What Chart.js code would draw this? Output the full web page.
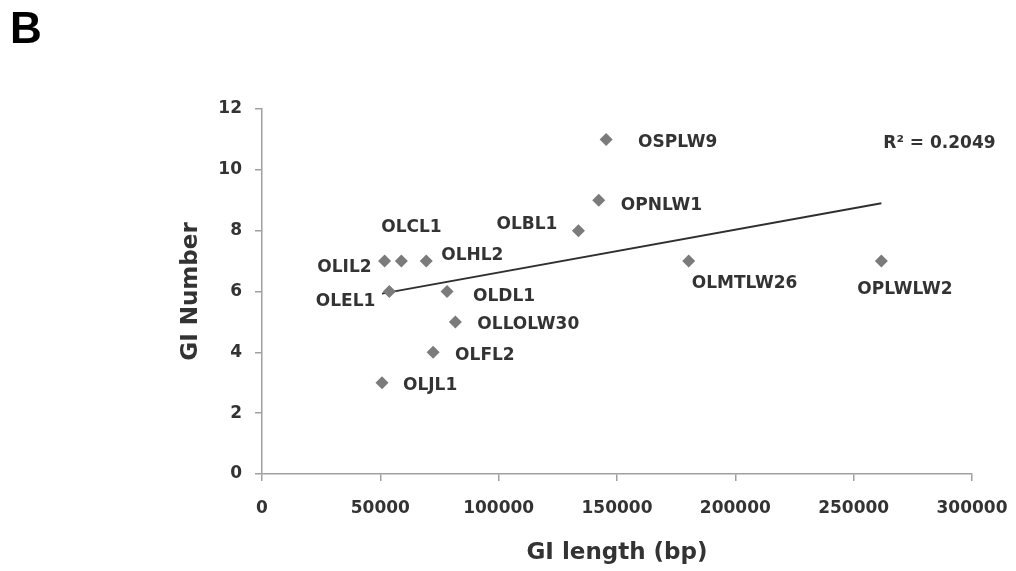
<!DOCTYPE html>
<html>
<head>
<meta charset="utf-8">
<script src="https://cdn.jsdelivr.net/npm/chart.js@4.4.1/dist/chart.umd.min.js"></script>
<style>
  body { margin: 0; background: #fff; }
  #wrap { position: relative; width: 1016px; height: 571px; }
  #panel { position: absolute; left: 10px; top: 6px; font: bold 44px "Liberation Sans", Arial, sans-serif; line-height: 1; color: #000; }
</style>
</head>
<body>
<div id="wrap">
  <canvas id="gi-chart" width="1016" height="571"></canvas>
  <div id="panel">B</div>
</div>
<script>
/* DATA */
const giNames  = ["OLIL2", "OLCL1", "OLHL2", "OLEL1", "OLDL1", "OLLOLW30", "OLFL2", "OLJL1", "OLBL1", "OPNLW1", "OSPLW9", "OLMTLW26", "OPLWLW2"]
const giLength = [51800, 58900, 69400, 53800, 78200, 81700, 72300, 50700, 133700, 142300, 145400, 180300, 261700]
const giNumber = [7, 7, 7, 6, 6, 5, 4, 3, 8, 9, 11, 7, 7]

/* linear trendline (Excel) endpoints */
const trendX = [50700, 261700]
const trendY = [5.93, 8.90]
const rSquared = "R² = 0.2049"

const xTitle = "GI length (bp)"
const yTitle = "GI Number"

/* label placement next to each point: [align, dx, dy] */
const labelPlace = [
    ["right", -13, 6],
    ["center", 10, -34],
    ["left", 15, -6],
    ["right", -14, 10],
    ["left", 26, 5],
    ["left", 22, 3],
    ["left", 22, 3],
    ["left", 21, 3],
    ["right", -21, -6],
    ["left", 22, 5],
    ["left", 32, 3],
    ["left", 3, 22],
    ["left", -24, 28]
]

const labelFont = 'bold 17px "DejaVu Sans", sans-serif'
const textColor = "#333333"

let pointsData = []
for (let i = 0; i < giNames.length; i++) {
    pointsData.push({ x: giLength[i], y: giNumber[i] })
}
let trendData = []
for (let i = 0; i < trendX.length; i++) {
    trendData.push({ x: trendX[i], y: trendY[i] })
}

const pointLabels = {
    id: "pointLabels",
    afterDatasetsDraw(chart) {
        const ctx = chart.ctx
        const meta = chart.getDatasetMeta(0)
        ctx.save()
        ctx.font = labelFont
        ctx.fillStyle = textColor
        ctx.textBaseline = "middle"
        for (let i = 0; i < meta.data.length; i++) {
            const p = meta.data[i]
            ctx.textAlign = labelPlace[i][0]
            ctx.fillText(giNames[i], p.x + labelPlace[i][1], p.y + labelPlace[i][2])
        }
        // R squared, next to the end of the trendline
        const xs = chart.scales.x, ys = chart.scales.y
        ctx.textAlign = "left"
        ctx.fillText(rSquared, xs.getPixelForValue(trendX[1]) + 2, ys.getPixelForValue(11) + 4)
        ctx.restore()
    }
}

const tickFont = { family: "DejaVu Sans", size: 17, weight: "bold" }
const titleFont = { family: "DejaVu Sans", size: 23, weight: "bold" }

new Chart(document.getElementById("gi-chart").getContext("2d"), {
    type: "scatter",
    data: {
        datasets: [
            {
                label: "GI",
                data: pointsData,
                pointStyle: "rectRot",
                pointRadius: 6.5,
                pointBorderWidth: 0,
                backgroundColor: "#7b7b7b",
                borderColor: "#7b7b7b"
            },
            {
                label: "Linear",
                type: "line",
                data: trendData,
                showLine: true,
                pointRadius: 0,
                borderColor: "#2f2f2f",
                borderWidth: 2,
                fill: false
            }
        ]
    },
    options: {
        responsive: false,
        animation: false,
        layout: { padding: { left: 177, top: 109, right: 44, bottom: 4 } },
        plugins: {
            legend: { display: false },
            tooltip: { enabled: false }
        },
        scales: {
            x: {
                type: "linear",
                min: 0,
                max: 300000,
                afterFit: (s) => { s.height = 93; s.paddingLeft = 0; s.paddingRight = 36 },
                border: { color: "#a0a0a0", width: 1.5 },
                grid: { drawOnChartArea: false, drawTicks: true, tickLength: 7, color: "#a0a0a0", lineWidth: 1.5 },
                ticks: {
                    stepSize: 50000,
                    padding: 17,
                    maxRotation: 0,
                    color: textColor,
                    font: tickFont,
                    callback: (v) => String(v)
                },
                title: { display: true, text: xTitle, color: textColor, font: titleFont, padding: 0 }
            },
            y: {
                type: "linear",
                min: 0,
                max: 12,
                afterFit: (s) => { s.width = 85 },
                border: { color: "#a0a0a0", width: 1.5 },
                grid: { drawOnChartArea: false, drawTicks: true, tickLength: 7, color: "#a0a0a0", lineWidth: 1.5 },
                ticks: {
                    stepSize: 2,
                    padding: 13,
                    color: textColor,
                    font: tickFont
                },
                title: { display: true, text: yTitle, color: textColor, font: titleFont, padding: 0 }
            }
        }
    },
    plugins: [pointLabels]
})
</script>
</body>
</html>
